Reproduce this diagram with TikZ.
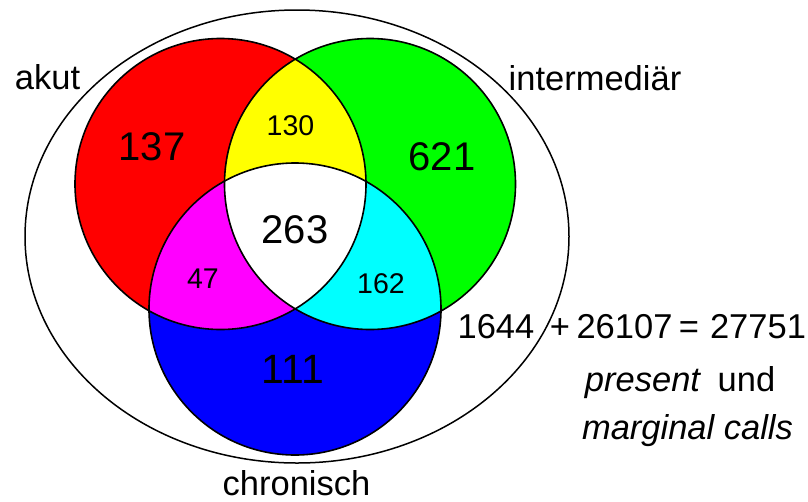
\documentclass[tikz,border=0pt]{standalone}
\usepackage{fontspec}
\setmainfont{Liberation Sans}
\definecolor{setred}{RGB}{255,0,0}
\definecolor{setgreen}{RGB}{0,255,0}
\definecolor{setblue}{RGB}{0,0,255}
\definecolor{setyellow}{RGB}{255,255,0}
\definecolor{setmagenta}{RGB}{255,0,255}
\definecolor{setcyan}{RGB}{0,255,255}
\begin{document}
\begin{tikzpicture}[x=1pt, y=-1pt,
  ring/.style={draw=black, line width=1.6pt},
  setlabel/.style={inner sep=0pt, anchor=base, font=\fontsize{34.5}{40}\selectfont},
  bignum/.style={inner sep=0pt, anchor=base, font=\fontsize{40}{46}\selectfont},
  smallnum/.style={inner sep=0pt, anchor=base, font=\fontsize{28.5}{34}\selectfont},
  eqtext/.style={inner sep=0pt, anchor=base, font=\fontsize{34.5}{40}\selectfont},
  eqital/.style={eqtext, font=\fontsize{34.5}{40}\selectfont\itshape}]
  \useasboundingbox (0,0) rectangle (808,501);

  % centres of the three sets
  \coordinate (cr) at (220.5,184);
  \coordinate (cg) at (370,184);
  \coordinate (cb) at (295,309);
  \def\rr{145.5pt}
  \def\rg{145.5pt}
  \def\rb{146pt}

  % outer ellipse: all calls
  \draw[line width=1.5pt] (297,236.5) ellipse [x radius=272pt, y radius=226.5pt];

  % single-set regions
  \fill[setred]   (cr) circle[radius=\rr];
  \fill[setgreen] (cg) circle[radius=\rg];
  \fill[setblue]  (cb) circle[radius=\rb];
  % pairwise overlaps
  \begin{scope}
    \clip (cr) circle[radius=\rr];
    \fill[setyellow]  (cg) circle[radius=\rg];
    \fill[setmagenta] (cb) circle[radius=\rb];
  \end{scope}
  \begin{scope}
    \clip (cg) circle[radius=\rg];
    \fill[setcyan] (cb) circle[radius=\rb];
  \end{scope}
  % triple overlap
  \begin{scope}
    \clip (cr) circle[radius=\rr];
    \clip (cg) circle[radius=\rg];
    \fill[white] (cb) circle[radius=\rb];
  \end{scope}
  % outlines
  \draw[ring] (cr) circle[radius=\rr];
  \draw[ring] (cg) circle[radius=\rg];
  \draw[ring] (cb) circle[radius=\rb];

  % set names
  \node[setlabel] (akut)  at (47.5,89)  {akut};
  \node[setlabel] (inter) at (595,90)   {intermediär};
  \node[setlabel] (chron) at (296.5,495) {chronisch};

  % region counts
  \node[bignum]   (n137) at (152,160)   {137};
  \node[smallnum] (n130) at (290.5,135) {130};
  \node[bignum]   (n621) at (442,170)   {621};
  \node[bignum]   (n263) at (295,243)   {263};
  \node[smallnum] (n47)  at (203,288)   {47};
  \node[smallnum] (n162) at (381,293)   {162};
  \node[bignum, font=\fontsize{41}{47}\selectfont] (n111) at (293,383.5) {111};

  % totals
  \node[eqtext] (t1644)  at (496,338)   {1644};
  \node[eqtext] (tplus)  at (560,338)   {+};
  \node[eqtext] (t26107) at (624.5,338) {26107};
  \node[eqtext] (teq)    at (689,338)   {=};
  \node[eqtext] (t27751) at (758,338)   {27751};
  \node[eqital] (tpres)  at (642.5,391) {present};
  \node[eqtext] (tund)   at (746.5,391) {und};
  \node[eqital] (tmarg)  at (687.5,439) {marginal calls};
\end{tikzpicture}
\end{document}
